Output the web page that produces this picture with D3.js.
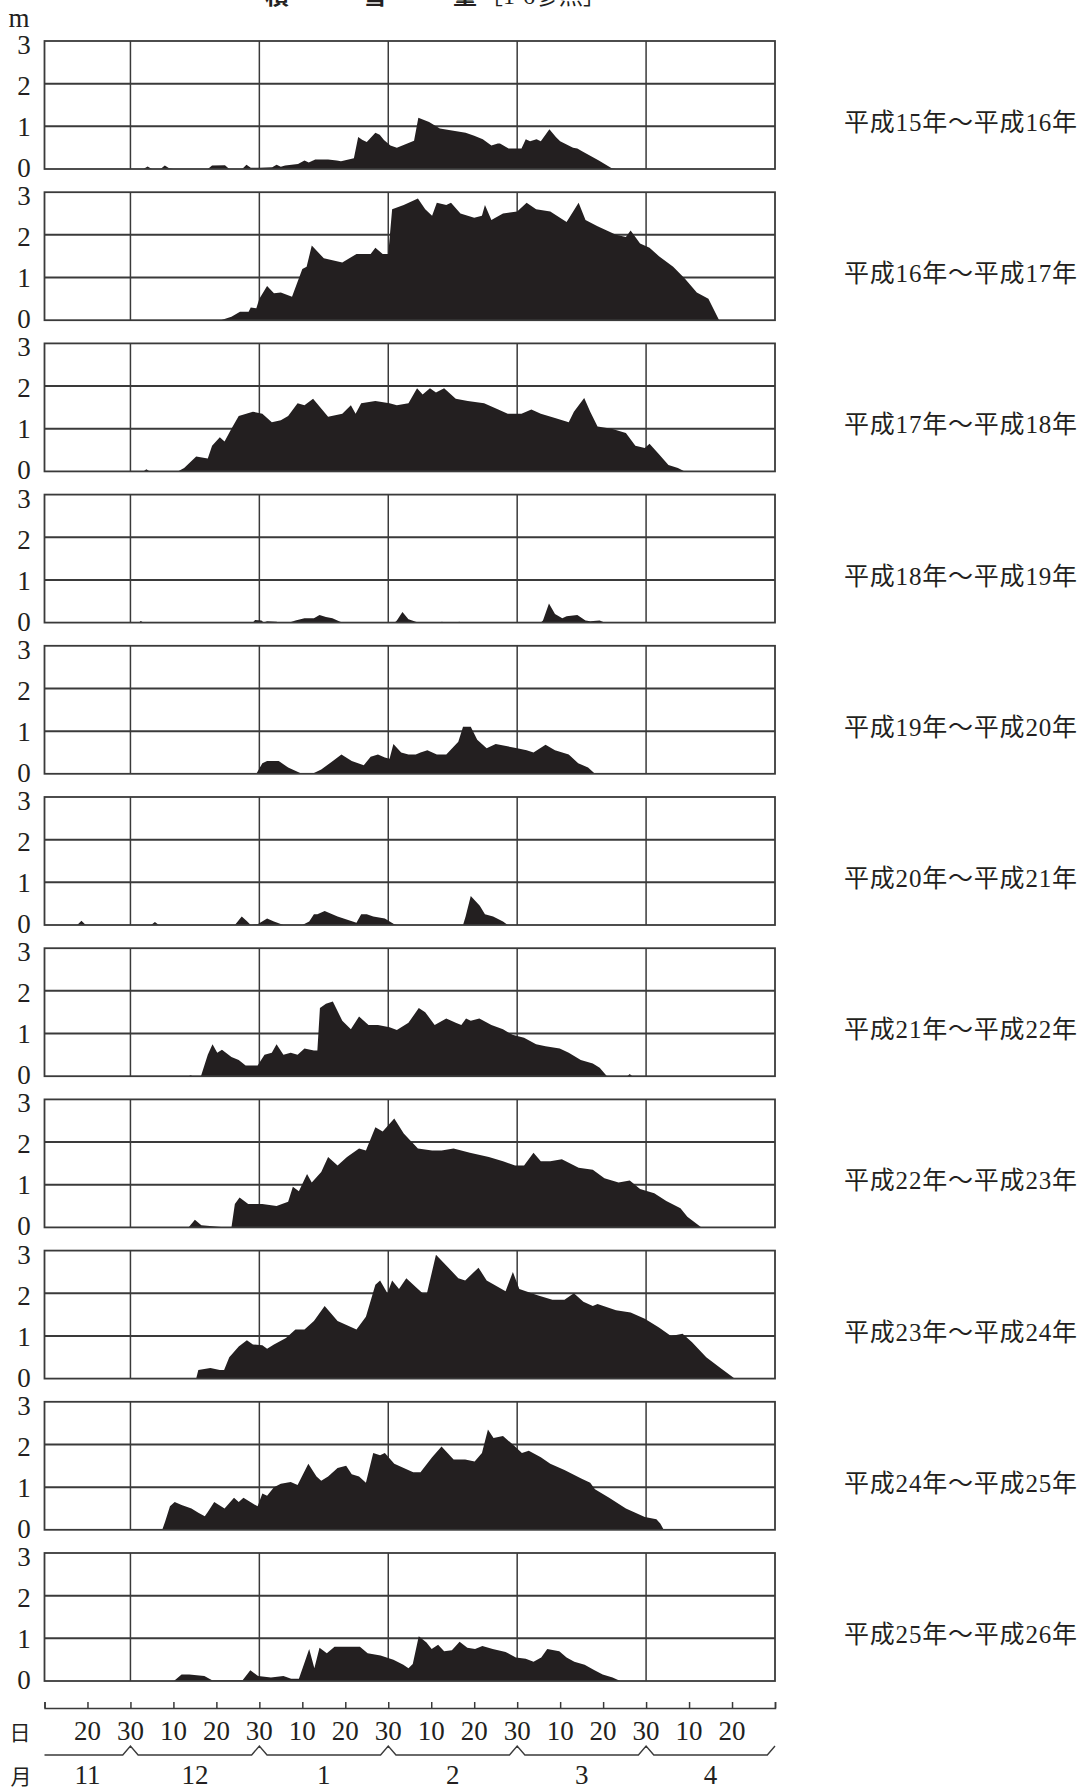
<!DOCTYPE html>
<html>
<head>
<meta charset="utf-8">
<script src="https://cdn.jsdelivr.net/npm/d3@7"></script>
<style>
  body { margin: 0; background: #fff; }
  svg { display: block; }
</style>
</head>
<body>
<div id="main-container"></div>
<script>
// DATA: [day counted from Nov 10 (30-day months), snow depth in m]
const s15_16 = [[0,0],[23,0],[24,0.06],[25,0],[27,0],[28,0.08],[29,0.02],[30,0],[38,0],[39,0.08],[42,0.09],[43,0],[46,0],[47,0.1],[48,0.03],[50,0.03],[53,0.04],[54,0.1],[55,0.05],[56,0.08],[59,0.12],[60.5,0.2],[61.5,0.15],[63,0.22],[66,0.22],[68,0.2],[69,0.18],[72,0.25],[73,0.75],[74,0.68],[75,0.63],[77,0.85],[78,0.8],[79,0.68],[80.5,0.55],[82,0.5],[84,0.58],[86,0.66],[87,1.2],[89.5,1.1],[92,0.95],[98,0.85],[100,0.78],[102,0.7],[104,0.55],[105.5,0.6],[106,0.6],[108,0.48],[111,0.48],[112,0.7],[113,0.65],[114.5,0.7],[115.5,0.65],[117.5,0.93],[119,0.75],[120,0.65],[123,0.5],[124,0.48],[125,0.42],[129,0.2],[132,0.02],[133,0]];
const s16_17 = [[41,0],[43.5,0.08],[45.5,0.2],[47.5,0.2],[48,0.3],[49.3,0.28],[50,0.5],[51.8,0.8],[53.4,0.63],[55,0.65],[57.6,0.55],[60,1.2],[61,1.25],[62.2,1.75],[65,1.45],[69.3,1.35],[72.6,1.55],[75.9,1.55],[77,1.7],[78.7,1.55],[80,1.55],[80.9,2.6],[83.6,2.7],[86.9,2.85],[88.6,2.6],[90.2,2.45],[91.3,2.75],[93.5,2.7],[94.6,2.75],[96.8,2.5],[100,2.4],[101.8,2.45],[102.5,2.7],[104,2.35],[106.7,2.5],[110,2.55],[112.2,2.75],[114.4,2.6],[117.7,2.55],[121.5,2.3],[124.3,2.75],[125.9,2.35],[128.7,2.2],[133,2.0],[135.3,1.95],[136.4,2.1],[138.6,1.8],[140.8,1.7],[143,1.5],[146.3,1.25],[149,0.98],[151.8,0.65],[154.5,0.5],[157,0]];
const s17_18 = [[23,0],[23.7,0.05],[24.5,0],[31,0],[32.5,0.08],[35.3,0.35],[38,0.3],[39,0.6],[40.8,0.8],[41.9,0.7],[43.5,1.0],[45.2,1.3],[48.5,1.4],[50.7,1.35],[52.9,1.15],[55,1.2],[56.7,1.3],[58.9,1.6],[60.5,1.55],[62.5,1.7],[66,1.28],[69.3,1.35],[71.3,1.55],[72.4,1.35],[73.7,1.6],[77,1.65],[80.3,1.6],[82,1.55],[84.7,1.6],[86.7,1.95],[88,1.8],[89.7,1.95],[91.1,1.85],[93,1.95],[95.7,1.7],[98.5,1.65],[102.3,1.6],[105.6,1.45],[107.8,1.35],[111,1.35],[113.3,1.45],[115.5,1.35],[118.8,1.25],[122,1.15],[123.2,1.4],[125.6,1.72],[127,1.4],[128.7,1.05],[132,1.0],[135.3,0.9],[137.5,0.6],[139.7,0.55],[140.8,0.65],[143,0.4],[145.2,0.15],[147.4,0.08],[149,0]];
const s18_19 = [[22,0],[22.4,0.04],[23,0],[48.5,0],[49,0.06],[50.5,0.05],[51,0],[51.8,0.03],[54,0.02],[54.5,0],[57,0],[58.4,0.05],[60.5,0.1],[62.7,0.1],[64,0.18],[65.5,0.13],[67,0.1],[68.8,0.02],[69.5,0],[81.5,0],[82,0.05],[83.3,0.25],[84.7,0.08],[86.4,0.02],[87,0],[92,0],[92.5,0.02],[93,0],[96,0],[96.5,0.02],[97,0],[115.5,0],[116,0.05],[117.4,0.45],[118.8,0.2],[120.5,0.1],[121.5,0.15],[124,0.18],[125.9,0.05],[127,0.03],[129.2,0.05],[130.3,0]];
const s19_20 = [[35,0],[35.3,0.02],[35.6,0],[38.7,0],[39,0.02],[39.3,0],[49.3,0],[50.7,0.25],[51.8,0.3],[54.5,0.3],[56.7,0.15],[59.5,0.02],[62.7,0.02],[64.4,0.1],[67.1,0.3],[69.1,0.45],[71.5,0.3],[74.3,0.2],[75.9,0.4],[77.6,0.45],[79.2,0.38],[80.3,0.35],[81.2,0.7],[83,0.5],[84.7,0.45],[86.4,0.45],[87.5,0.5],[89.1,0.55],[91.3,0.45],[93.5,0.45],[96.3,0.75],[97.4,1.1],[99.2,1.1],[100.7,0.8],[102.9,0.6],[105,0.7],[110,0.6],[112.2,0.55],[113.8,0.5],[116.6,0.68],[118.8,0.55],[122,0.45],[124.2,0.25],[126.5,0.15],[128.1,0]];
const s20_21 = [[7.6,0],[8.6,0.1],[9.6,0],[24.8,0],[25.7,0.07],[26.6,0],[44.3,0],[45.9,0.2],[47,0.1],[48,0],[49.6,0.02],[51.8,0.15],[53.4,0.08],[55.6,0],[60,0],[61.6,0.08],[62.7,0.25],[63.5,0.25],[65.2,0.33],[68.2,0.2],[72.6,0.05],[73.7,0.25],[75,0.25],[76.5,0.2],[79.2,0.15],[81.4,0.02],[82,0],[97.4,0],[98,0.2],[99.2,0.68],[101.3,0.45],[102.5,0.25],[104.4,0.2],[106.7,0.08],[107.8,0]];
const s21_22 = [[33.5,0],[34,0.02],[34.5,0],[36.4,0],[38,0.5],[39.1,0.75],[40.2,0.55],[41.3,0.62],[43.5,0.45],[45.2,0.38],[46.8,0.25],[49.6,0.25],[51.2,0.5],[52.9,0.55],[54,0.75],[55.6,0.5],[57.3,0.55],[58.9,0.5],[60.5,0.65],[62.7,0.6],[63.5,0.6],[64.1,1.6],[65.5,1.7],[67.1,1.75],[69.3,1.3],[71.3,1.1],[73.2,1.4],[75.4,1.2],[77.6,1.2],[80.3,1.15],[82,1.08],[84.7,1.25],[87.1,1.6],[88.6,1.5],[90.8,1.2],[93.5,1.35],[95.7,1.25],[97,1.2],[98.1,1.35],[99.2,1.3],[101.2,1.35],[104,1.2],[106.7,1.1],[108.9,0.97],[111.6,0.9],[114.4,0.75],[116.6,0.7],[119.9,0.65],[122,0.55],[124.8,0.38],[127.6,0.3],[129.2,0.2],[130.9,0],[135.6,0],[136.2,0.05],[136.8,0]];
const s22_23 = [[33.5,0],[35,0.18],[36.5,0.05],[42.4,0],[43.5,0],[44.3,0.55],[45.4,0.7],[47.4,0.55],[50.7,0.55],[54,0.5],[56.7,0.6],[57.8,0.95],[59.2,0.85],[61.1,1.25],[62.2,1.05],[64.4,1.3],[66,1.65],[68.2,1.45],[70.4,1.65],[73.2,1.85],[74.8,1.8],[77,2.35],[78.7,2.25],[81.4,2.55],[83.6,2.2],[86.9,1.85],[90.2,1.8],[92.4,1.8],[95.2,1.85],[99,1.75],[103.4,1.65],[106.7,1.55],[109.5,1.45],[111.6,1.45],[113.8,1.75],[115.5,1.55],[117.7,1.55],[120.4,1.6],[124.3,1.4],[127.6,1.35],[130.3,1.15],[133.6,1.05],[136.2,1.1],[138.6,0.9],[141.9,0.8],[144.7,0.62],[148,0.45],[149.6,0.25],[152.9,0]];
const s23_24 = [[35.3,0],[35.8,0.2],[38.6,0.25],[40.8,0.2],[41.8,0.2],[43,0.5],[45.2,0.75],[47.1,0.9],[48.5,0.8],[50.7,0.78],[51.8,0.7],[53.4,0.8],[56.2,0.95],[58.4,1.15],[60.5,1.15],[62.7,1.35],[65.2,1.7],[68.2,1.35],[70.4,1.25],[72.6,1.15],[74.8,1.45],[77,2.2],[78.1,2.3],[79.8,2.0],[80.9,2.3],[82.5,2.1],[84.2,2.35],[86.9,2.1],[88,2.0],[89,2.0],[91.1,2.9],[94,2.6],[96.3,2.35],[97.9,2.3],[101,2.6],[102.9,2.3],[107.3,2.05],[109,2.5],[110.5,2.1],[114.9,1.95],[118.2,1.85],[121,1.85],[123.2,2.0],[125.4,1.8],[127.6,1.7],[128.7,1.75],[133,1.6],[136.4,1.55],[139.7,1.4],[143,1.2],[145.8,1.0],[148.5,1.05],[150.7,0.85],[154,0.5],[157.3,0.25],[160.6,0]];
const s24_25 = [[27.4,0],[28.1,0.2],[29.2,0.55],[30.3,0.65],[31.9,0.58],[34.2,0.5],[35.8,0.4],[37.3,0.32],[38,0.42],[39.5,0.65],[41.9,0.5],[44.1,0.75],[45.2,0.65],[46.3,0.75],[47.9,0.65],[49.6,0.55],[50.7,0.85],[51.8,0.8],[53.4,1.0],[55,1.08],[57.3,1.12],[58.9,1.05],[61.4,1.55],[63.3,1.25],[64.4,1.15],[66,1.25],[68.2,1.45],[70.2,1.5],[71.5,1.3],[73.2,1.25],[74.8,1.1],[76.5,1.8],[78.1,1.75],[79.2,1.8],[81.4,1.55],[83.6,1.45],[85.8,1.35],[87.5,1.35],[90.2,1.7],[92.4,1.95],[95.2,1.65],[97.9,1.65],[100.1,1.6],[101.8,1.8],[103.2,2.35],[104.5,2.15],[106.7,2.2],[109.5,1.95],[111.1,1.8],[112.7,1.85],[115.5,1.7],[117.7,1.55],[121,1.4],[124.9,1.2],[127,1.1],[128.1,0.95],[131.4,0.75],[135.3,0.5],[137.5,0.4],[139.7,0.3],[142.4,0.25],[143.3,0.15],[144.1,0]];
const s25_26 = [[30.1,0],[31.9,0.15],[33.7,0.15],[37.2,0.12],[39,0.02],[46.1,0.02],[47.9,0.25],[49.7,0.12],[52.7,0.08],[55.6,0.12],[57.4,0.05],[59.2,0.05],[60.4,0.4],[61.6,0.75],[62.8,0.3],[64,0.78],[65.7,0.65],[67.5,0.8],[69.3,0.8],[71.7,0.8],[73.4,0.8],[75.2,0.65],[78.2,0.6],[81.2,0.5],[83.5,0.38],[84.7,0.3],[85.7,0.4],[87.1,1.05],[88.9,0.9],[90.1,0.75],[91.6,0.85],[93,0.7],[94.8,0.72],[96.6,0.92],[98.4,0.78],[100.2,0.75],[101.9,0.82],[104.3,0.75],[107.3,0.68],[109.7,0.55],[112,0.52],[113.8,0.45],[115.6,0.55],[117,0.75],[119.8,0.7],[121.5,0.55],[123.3,0.45],[125.7,0.38],[128,0.25],[129.9,0.15],[132.2,0.08],[134,0]];

const seasonLabels = ["平成15年～平成16年","平成16年～平成17年","平成17年～平成18年","平成18年～平成19年","平成19年～平成20年","平成20年～平成21年","平成21年～平成22年","平成22年～平成23年","平成23年～平成24年","平成24年～平成25年","平成25年～平成26年"];
const seasonData = [s15_16, s16_17, s17_18, s18_19, s19_20, s20_21, s21_22, s22_23, s23_24, s24_25, s25_26];

const yTicks = [0, 1, 2, 3];
const monthEnds = [20, 50, 80, 110, 140];          // the "30" day of each month
const dayTicks = d3.range(0, 171, 10);
const dayLabels = ["20","30","10","20","30","10","20","30","10","20","30","10","20","30","10","20"];
const dayLabelAt = d3.range(10, 161, 10);
const monthLabels = ["11","12","1","2","3","4"];
const monthCenters = [10, 35, 65, 95, 125, 155];

// DRAWING SETUP
const W = 1086, H = 1787;
const panelTop0 = 41, panelStep = 151.2, panelH = 128;
const serif = "'Liberation Serif', 'DejaVu Serif', serif";
const cjk = "'Noto Sans CJK JP', sans-serif";
const ink = "#231f20", gridCol = "#3a3a3a";

let svg = d3.select("#main-container")
    .append("svg")
        .attr("width", W)
        .attr("height", H)
        .style("background", "#fff");

let x = d3.scaleLinear()
    .domain([0, 170])
    .range([44.5, 775]);

// title (cut off by the top edge, as in the source page)
const titleParts = [["積", 277], ["雪", 375], ["量", 465]];
titleParts.forEach(([t, cx]) => {
    svg.append("text").attr("x", cx).attr("y", 4)
        .attr("text-anchor", "middle")
        .style("font-family", cjk).style("font-size", "24px").style("font-weight", 700)
        .attr("fill", ink).text(t);
});
svg.append("text").attr("x", 479).attr("y", 4)
    .style("font-family", `${serif.split(",")[0]}, ${cjk}`).style("font-size", "24px")
    .attr("fill", ink).text("［1-6参照］");

svg.append("text").attr("x", 19).attr("y", 27)
    .attr("text-anchor", "middle")
    .style("font-family", serif).style("font-size", "27px")
    .attr("fill", ink).text("m");

seasonData.forEach((data, i) => {
    const top = panelTop0 + i * panelStep;
    let y = d3.scaleLinear().domain([0, 3]).range([top + panelH, top]);
    // label positions sit slightly tighter than the grid
    let yLab = d3.scaleLinear().domain([0, 3]).range([top + panelH - 1, top + 4]);

    let g = svg.append("g").attr("class", "panel");

    // grid
    g.selectAll(".hgrid").data([1, 2]).enter().append("line")
        .attr("x1", x(0)).attr("x2", x(170))
        .attr("y1", d => y(d)).attr("y2", d => y(d))
        .attr("stroke", gridCol).attr("stroke-width", 2);
    g.selectAll(".vgrid").data(monthEnds).enter().append("line")
        .attr("x1", d => x(d)).attr("x2", d => x(d))
        .attr("y1", y(3)).attr("y2", y(0))
        .attr("stroke", gridCol).attr("stroke-width", 1.5);

    // snow depth area
    let area = d3.area()
        .x(d => x(d[0]))
        .y0(y(0))
        .y1(d => y(d[1]));
    g.append("path")
        .datum(data)
        .attr("d", area)
        .attr("fill", ink);

    // frame
    g.append("rect")
        .attr("x", x(0)).attr("y", y(3))
        .attr("width", x(170) - x(0)).attr("height", y(0) - y(3))
        .attr("fill", "none").attr("stroke", gridCol).attr("stroke-width", 1.8);

    // y labels
    g.selectAll(".ylab").data(yTicks).enter().append("text")
        .attr("x", 24).attr("y", d => yLab(d))
        .attr("text-anchor", "middle").attr("dominant-baseline", "central")
        .style("font-family", serif).style("font-size", "27px")
        .attr("fill", ink).text(d => d);

    // season label
    g.append("text")
        .attr("x", 844).attr("y", top + 81.5)
        .attr("dominant-baseline", "central")
        .attr("textLength", 233).attr("lengthAdjust", "spacing")
        .style("font-family", `'Liberation Serif', ${cjk}`).style("font-size", "25px")
        .attr("fill", ink).text(seasonLabels[i]);
});

// day axis
const axisY = 1708;
svg.append("g")
    .attr("transform", `translate(0, ${axisY})`)
    .call(d3.axisTop(x).tickValues(dayTicks).tickSize(6).tickSizeOuter(6).tickFormat(""))
    .call(g => g.selectAll("path, line").attr("stroke", gridCol).attr("stroke-width", 1.5));

svg.selectAll(".daylab").data(dayLabelAt).enter().append("text")
    .attr("x", d => x(d)).attr("y", 1731)
    .attr("text-anchor", "middle").attr("dominant-baseline", "central")
    .style("font-family", serif).style("font-size", "27px")
    .attr("fill", ink).text((d, i) => dayLabels[i]);

svg.append("text").attr("x", 20).attr("y", 1731)
    .attr("text-anchor", "middle").attr("dominant-baseline", "central")
    .style("font-family", cjk).style("font-size", "21px")
    .attr("fill", ink).text("日");

// month brackets
const by = 1755, bh = 9, bw = 7.7;
let pts = [[x(0), by]];
monthEnds.forEach(d => {
    pts.push([x(d) - bw, by], [x(d), by - bh], [x(d) + bw, by]);
});
pts.push([x(170) - bw, by], [x(170), by - bh]);
svg.append("path")
    .attr("d", d3.line()(pts))
    .attr("fill", "none").attr("stroke", gridCol).attr("stroke-width", 1.4);

svg.selectAll(".monlab").data(monthCenters).enter().append("text")
    .attr("x", d => x(d)).attr("y", 1775)
    .attr("text-anchor", "middle").attr("dominant-baseline", "central")
    .style("font-family", serif).style("font-size", "27px")
    .attr("fill", ink).text((d, i) => monthLabels[i]);

svg.append("text").attr("x", 21).attr("y", 1775)
    .attr("text-anchor", "middle").attr("dominant-baseline", "central")
    .style("font-family", cjk).style("font-size", "21px")
    .attr("fill", ink).text("月");
</script>
</body>
</html>
